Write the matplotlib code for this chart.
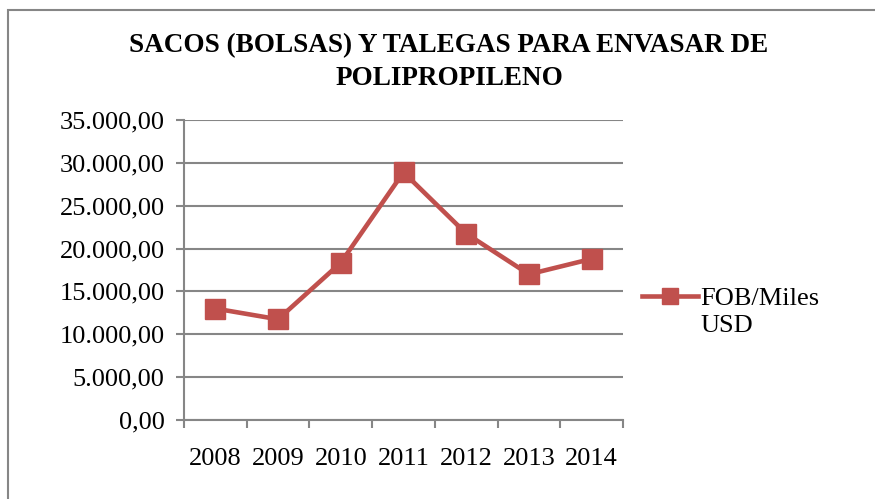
import matplotlib
matplotlib.use('Agg')
import matplotlib.pyplot as plt
from matplotlib.patches import Rectangle
from matplotlib.ticker import FuncFormatter

years = ['2008', '2009', '2010', '2011', '2012', '2013', '2014']
fob = [13000, 11750, 18350, 28900, 21750, 17000, 18800]
serie = 'FOB/Miles'
serie_2 = 'USD'
titulo = 'SACOS (BOLSAS) Y TALEGAS PARA ENVASAR DE\nPOLIPROPILENO'

plt.rcParams['font.family'] = ['Liberation Serif', 'DejaVu Serif']

fig = plt.figure(figsize=(8.75, 4.99), dpi=100)
# chart border (only top and left visible in the reference)
fig.patches.append(Rectangle((8 / 875, -0.1), 1.0, (499 - 10) / 499 + 0.1,
                             transform=fig.transFigure, fill=False,
                             edgecolor='#868686', linewidth=1.5))

ax = fig.add_axes([184 / 875, 1 - 420 / 499, (623 - 184) / 875, 300 / 499])

x = list(range(len(years)))
ax.plot(x, fob, color='#C0504D', linewidth=3.3, marker='s', markersize=14,
        label=serie)

ax.set_xlim(-0.5, len(years) - 0.5)
ax.set_ylim(0, 35000)
ax.set_yticks(range(0, 35001, 5000))
ax.yaxis.set_major_formatter(FuncFormatter(
    lambda v, p: '{:,.2f}'.format(v).replace(',', 'X').replace('.', ',').replace('X', '.')))
ax.set_xticks([i - 0.5 for i in range(len(years) + 1)])
ax.set_xticklabels([])
ax.set_xticks(x, minor=True)
ax.set_xticklabels(years, minor=True)
ax.tick_params(axis='x', which='minor', length=0, pad=20, labelsize=19)
ax.tick_params(axis='x', which='major', length=6, color='#868686', width=1.5)
ax.tick_params(axis='y', length=6, color='#868686', width=1.5, labelsize=19, pad=8)

ax.grid(axis='y', color='#868686', linewidth=1.5)
ax.set_axisbelow(True)
for s in ['top', 'right']:
    ax.spines[s].set_visible(False)
for s in ['left', 'bottom']:
    ax.spines[s].set_color('#868686')
    ax.spines[s].set_linewidth(1.5)

fig.text(449 / 875, 1 - 62 / 499, titulo, ha='center', va='center',
         fontsize=19.5, fontweight='bold', linespacing=1.38)

ax.legend(loc='center left', bbox_to_anchor=(629 / 875, 1 - 298 / 499),
          bbox_transform=fig.transFigure, frameon=False, fontsize=19,
          handlelength=2.1, handletextpad=0.1, borderpad=0, markerscale=0.85)
fig.text(700 / 875, 1 - 326 / 499, serie_2, ha='left', va='center', fontsize=19)

fig.savefig('out.png', dpi=100)
